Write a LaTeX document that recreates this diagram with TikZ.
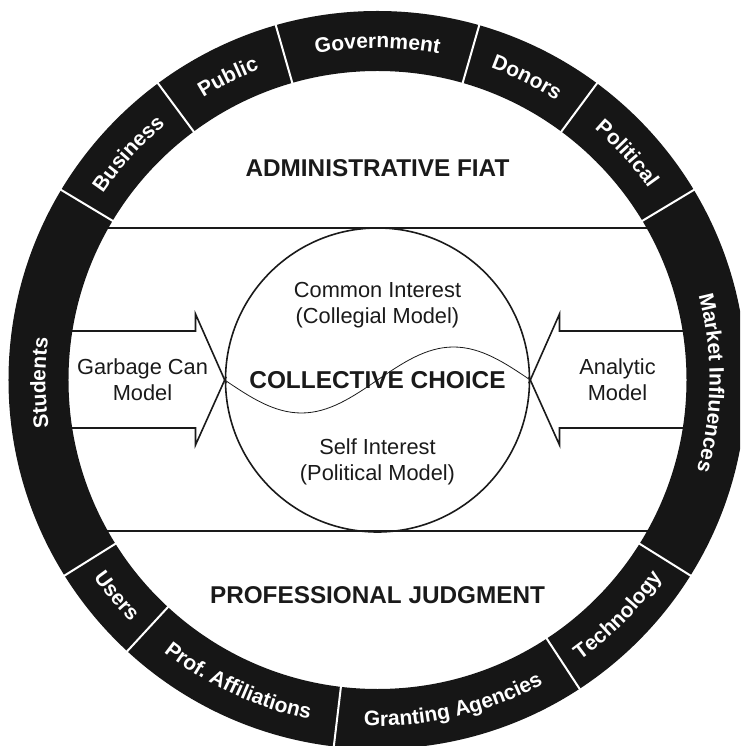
\documentclass[tikz,border=0pt]{standalone}
\usepackage{fontspec}
\setmainfont{Liberation Sans}
\usetikzlibrary{calc}
\usetikzlibrary{positioning}
\usetikzlibrary{decorations.text}
\definecolor{ringblack}{HTML}{161616}
\definecolor{ink}{HTML}{1A1A1A}
\newcommand\ringfont{\bfseries\fontsize{21}{21}\selectfont}
\tikzstyle{heading} = [font=\bfseries\fontsize{24.3}{26}\selectfont, text=ink]
\tikzstyle{model} = [align=center, font=\fontsize{21.8}{26}\selectfont, text=ink]
\tikzstyle{band} = [draw=ink, line width=2pt]
\tikzstyle{arrowline} = [draw=ink, line width=1.6pt, line join=miter]
\tikzstyle{sep} = [draw=white, line width=2pt]
\tikzstyle{choicecircle} = [circle, draw=ink, line width=1.6pt, minimum size=304pt, inner sep=0pt,
    font=\bfseries\fontsize{24.4}{26}\selectfont, text=ink]
\tikzset{ringlabel/.style={decorate, decoration={text along path, text align=center,
    text color=white, text={|\ringfont|#1}}}}
% upper labels run clockwise, lower ones counter-clockwise
\newcommand\toplabel[3]{\path[ringlabel={#3}] (#1:332) arc[start angle=#1, end angle=#2, radius=332];}
\newcommand\botlabel[3]{\path[ringlabel={#3}] (#1:346) arc[start angle=#1, end angle=#2, radius=346];}

\begin{document}
\begin{tikzpicture}[x=1pt, y=1pt]
	\clip (-377.5,-366) rectangle (362.5,380);
	\draw[band] (-330,152) -- (330,152);
	\draw[band] (-330,-151) -- (330,-151);

	\node[heading] (admin) at (0,212) {ADMINISTRATIVE FIAT};
	\node[heading] (prof) at (0,-215) {PROFESSIONAL JUDGMENT};

	\node[choicecircle] (choice) at (0,0) {COLLECTIVE CHOICE};
	\draw[ink, line width=0.8pt] (choice.west) sin (-76,-33) cos (0,0) sin (76,33) cos (choice.east);
	\node[model] (common) at (0,75) {Common Interest\\(Collegial Model)};
	\node[model] (self) at (0,-82) {Self Interest\\(Political Model)};

	% the two open arrows pointing at the circle
	\coordinate (lup) at (-182,66);
	\coordinate (llow) at (-182,-65);
	\coordinate (rup) at (182,66);
	\coordinate (rlow) at (182,-65);
	\draw[arrowline] (-330,49) -| (lup) -- ($(lup)!1.05!(choice.west)$);
	\draw[arrowline] (-330,-48) -| (llow) -- ($(llow)!1.05!(choice.west)$);
	\draw[arrowline] (330,49) -| (rup) -- ($(rup)!1.05!(choice.east)$);
	\draw[arrowline] (330,-48) -| (rlow) -- ($(rlow)!1.05!(choice.east)$);
	\node[model] (garbage) at (-235,0) {Garbage Can\\Model};
	\node[model] (analytic) at (240,0) {Analytic\\Model};

	% outer ring
	\fill[ringblack, even odd rule] (0,0) circle[radius=369] (0,0) circle[radius=309];
	\foreach \a in {31,53.5,74,106,126.5,149,212,227.3,263.2,303.2,328}
		\draw[sep] (\a:307) -- (\a:372);

	\toplabel{212}{149}{Students}
	\toplabel{149}{126.5}{Business}
	\toplabel{126.5}{106}{Public}
	\toplabel{106}{74}{Government}
	\toplabel{74}{53.5}{Donors}
	\toplabel{53.5}{31}{Political}
	\toplabel{31}{-32}{Market Influences}
	\botlabel{-148}{-132.7}{Users}
	\botlabel{-132.7}{-96.8}{Prof. Affiliations}
	\botlabel{-96.8}{-56.8}{Granting Agencies}
	\botlabel{-56.8}{-32}{Technology}
\end{tikzpicture}
\end{document}
